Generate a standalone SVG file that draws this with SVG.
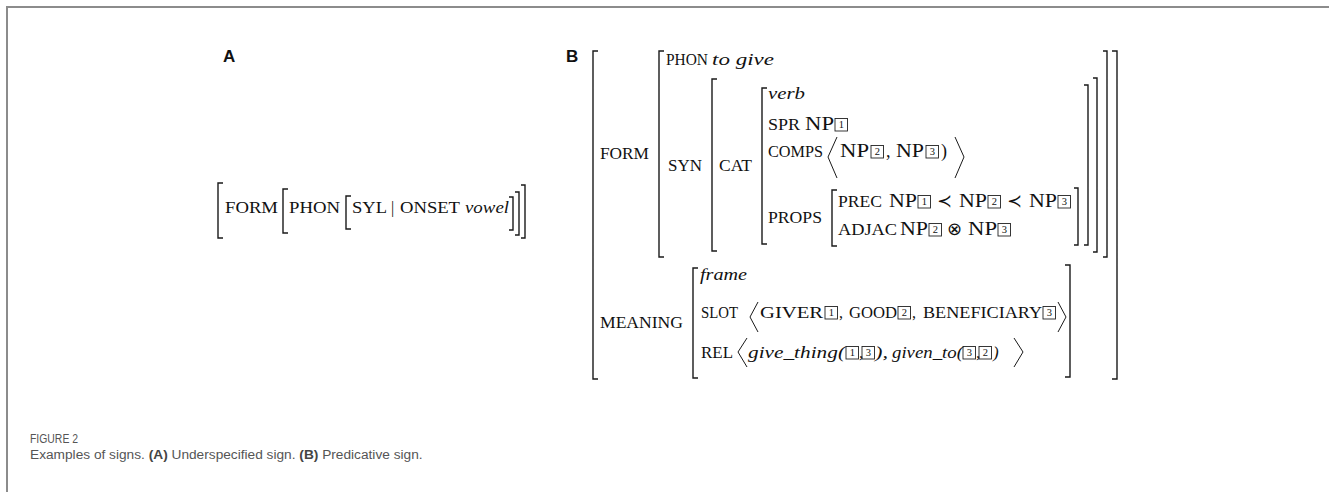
<svg xmlns="http://www.w3.org/2000/svg" width="1329" height="492" viewBox="0 0 1329 492">
<style>
  text { font-family: "Liberation Serif", "Times New Roman", serif; fill: #111; }
  .sc { font-size: 16px; }
  .it { font-size: 17px; font-style: italic; }
  .np { font-size: 18px; }
  .dg { font-size: 10.5px; text-anchor: middle; }
  .lbl { font-family: "Liberation Sans", Arial, sans-serif; font-weight: bold; font-size: 17px; }
  .br { fill: none; stroke: #1a1a1a; stroke-width: 1.4; }
  .ang { fill: none; stroke: #1a1a1a; stroke-width: 1; }
  .bx { fill: none; stroke: #222; stroke-width: 0.9; }
  .frame { fill: none; stroke: #8c8c8c; stroke-width: 2; }
  .cap { font-family: "Liberation Sans", Arial, sans-serif; fill: #555; font-size: 13.7px; }
</style>
<defs>
  <g id="b1"><rect class="bx" x="0" y="-11.5" width="12.5" height="12.5"/><text class="dg" x="6.25" y="-1.8">1</text></g>
  <g id="b2"><rect class="bx" x="0" y="-11.5" width="12.5" height="12.5"/><text class="dg" x="6.25" y="-1.8">2</text></g>
  <g id="b3"><rect class="bx" x="0" y="-11.5" width="12.5" height="12.5"/><text class="dg" x="6.25" y="-1.8">3</text></g>
</defs>

<path class="frame" d="M7,492 V7 H1329"/>

<g id="panelA">
  <text class="lbl" x="223" y="62">A</text>
  <path class="br" d="M223,183 H218 V238 H223 M288,189 H283 V233 H288 M351,196 H346 V229 H351 M509,197 H513 V230 H509 M515,192 H519 V235 H515 M521,185 H525 V238 H521"/>
  <text class="sc" x="225" y="213" textLength="53" lengthAdjust="spacingAndGlyphs">FORM</text>
  <text class="sc" x="289" y="213" textLength="51" lengthAdjust="spacingAndGlyphs">PHON</text>
  <text class="sc" x="352" y="213" textLength="35" lengthAdjust="spacingAndGlyphs">SYL</text>
  <text class="sc" x="391" y="213">|</text>
  <text class="sc" x="400" y="213" textLength="60" lengthAdjust="spacingAndGlyphs">ONSET</text>
  <text class="it" x="465" y="213" textLength="44" lengthAdjust="spacingAndGlyphs">vowel</text>
</g>

<g id="panelB">
  <text class="lbl" x="566" y="62">B</text>
  <path class="br" d="
    M598,51 H593 V379 H598
    M1112,51 H1117 V379 H1112
    M664,51 H659 V257 H664
    M1103,51 H1107 V257 H1103
    M717,79 H712 V251 H717
    M1093,78 H1097 V252 H1093
    M767,88 H762 V244 H767
    M1084,85 H1088 V245 H1084
    M837,190 H832 V246 H837
    M1074,188 H1078 V245 H1074
    M698,268 H693 V378 H698
    M1065,265 H1070 V377 H1065"/>

  <!-- FORM -->
  <text class="sc" x="600" y="159" textLength="49" lengthAdjust="spacingAndGlyphs">FORM</text>
  <text class="sc" x="666" y="65" textLength="42" lengthAdjust="spacingAndGlyphs">PHON</text>
  <text class="it" x="712" y="65" font-size="18" textLength="62" lengthAdjust="spacingAndGlyphs">to give</text>
  <text class="sc" x="668" y="171" textLength="34" lengthAdjust="spacingAndGlyphs">SYN</text>
  <text class="sc" x="719" y="171" textLength="33" lengthAdjust="spacingAndGlyphs">CAT</text>
  <text class="it" x="768" y="99" textLength="37" lengthAdjust="spacingAndGlyphs">verb</text>

  <text class="sc" x="768" y="130" textLength="32" lengthAdjust="spacingAndGlyphs">SPR</text>
  <text class="np" x="805" y="130" textLength="29" lengthAdjust="spacingAndGlyphs">NP</text>
  <use href="#b1" x="835" y="130"/>

  <text class="sc" x="768" y="157" textLength="55" lengthAdjust="spacingAndGlyphs">COMPS</text>
  <path class="ang" d="M837,137 L828,157 L837,178"/>
  <text class="np" x="840" y="157" textLength="29" lengthAdjust="spacingAndGlyphs">NP</text>
  <use href="#b2" x="871" y="157"/>
  <text class="np" x="886" y="157">,</text>
  <text class="np" x="896" y="157" textLength="28" lengthAdjust="spacingAndGlyphs">NP</text>
  <use href="#b3" x="926" y="157"/>
  <text class="np" x="941" y="157">)</text>
  <path class="ang" d="M955,137 L964,157 L955,178"/>

  <text class="sc" x="768" y="223" textLength="54" lengthAdjust="spacingAndGlyphs">PROPS</text>
  <text class="sc" x="838" y="207" textLength="44" lengthAdjust="spacingAndGlyphs">PREC</text>
  <text class="np" x="889" y="207" textLength="28" lengthAdjust="spacingAndGlyphs">NP</text>
  <use href="#b1" x="918" y="207"/>
  <text class="np" x="937" y="207">≺</text>
  <text class="np" x="959" y="207" textLength="28" lengthAdjust="spacingAndGlyphs">NP</text>
  <use href="#b2" x="988" y="207"/>
  <text class="np" x="1007" y="207">≺</text>
  <text class="np" x="1029" y="207" textLength="28" lengthAdjust="spacingAndGlyphs">NP</text>
  <use href="#b3" x="1058" y="207"/>

  <text class="sc" x="838" y="235" textLength="59" lengthAdjust="spacingAndGlyphs">ADJAC</text>
  <text class="np" x="900" y="235" textLength="28" lengthAdjust="spacingAndGlyphs">NP</text>
  <use href="#b2" x="929" y="235"/>
  <text class="np" x="947" y="235">⊗</text>
  <text class="np" x="968" y="235" textLength="29" lengthAdjust="spacingAndGlyphs">NP</text>
  <use href="#b3" x="998" y="235"/>

  <!-- MEANING -->
  <text class="sc" x="600" y="328" textLength="83" lengthAdjust="spacingAndGlyphs">MEANING</text>
  <text class="it" x="700" y="280" textLength="47" lengthAdjust="spacingAndGlyphs">frame</text>

  <text class="sc" x="701" y="318" textLength="37" lengthAdjust="spacingAndGlyphs">SLOT</text>
  <path class="ang" d="M758,302 L750,317 L758,332"/>
  <text class="sc" x="760" y="318" textLength="63" lengthAdjust="spacingAndGlyphs">GIVER</text>
  <use href="#b1" x="825" y="318"/>
  <text class="sc" x="839" y="318">,</text>
  <text class="sc" x="849" y="318" textLength="48" lengthAdjust="spacingAndGlyphs">GOOD</text>
  <use href="#b2" x="898" y="318"/>
  <text class="sc" x="912" y="318">,</text>
  <text class="sc" x="923" y="318" textLength="119" lengthAdjust="spacingAndGlyphs">BENEFICIARY</text>
  <use href="#b3" x="1043" y="318"/>
  <path class="ang" d="M1058,302 L1066,317 L1058,332"/>

  <text class="sc" x="701" y="358" textLength="32" lengthAdjust="spacingAndGlyphs">REL</text>
  <path class="ang" d="M747,338 L738,352 L747,367"/>
  <text class="it" x="748" y="358" textLength="97" lengthAdjust="spacingAndGlyphs">give_thing(</text>
  <use href="#b1" x="846" y="358"/>
  <text class="it" x="859" y="358">,</text>
  <use href="#b3" x="862" y="358"/>
  <text class="it" x="875" y="358" textLength="13" lengthAdjust="spacingAndGlyphs">),</text>
  <text class="it" x="892" y="358" textLength="71" lengthAdjust="spacingAndGlyphs">given_to(</text>
  <use href="#b3" x="963" y="358"/>
  <text class="it" x="976" y="358">,</text>
  <use href="#b2" x="979" y="358"/>
  <text class="it" x="993" y="358">)</text>
  <path class="ang" d="M1014,338 L1023,352 L1014,367"/>
</g>

<g id="caption">
  <text class="cap" x="30" y="443" font-size="12" fill="#666" textLength="48" lengthAdjust="spacingAndGlyphs">FIGURE 2</text>
  <text class="cap" x="30" y="459">Examples of signs. <tspan font-weight="bold" fill="#444">(A)</tspan> Underspecified sign. <tspan font-weight="bold" fill="#444">(B)</tspan> Predicative sign.</text>
</g>
</svg>
